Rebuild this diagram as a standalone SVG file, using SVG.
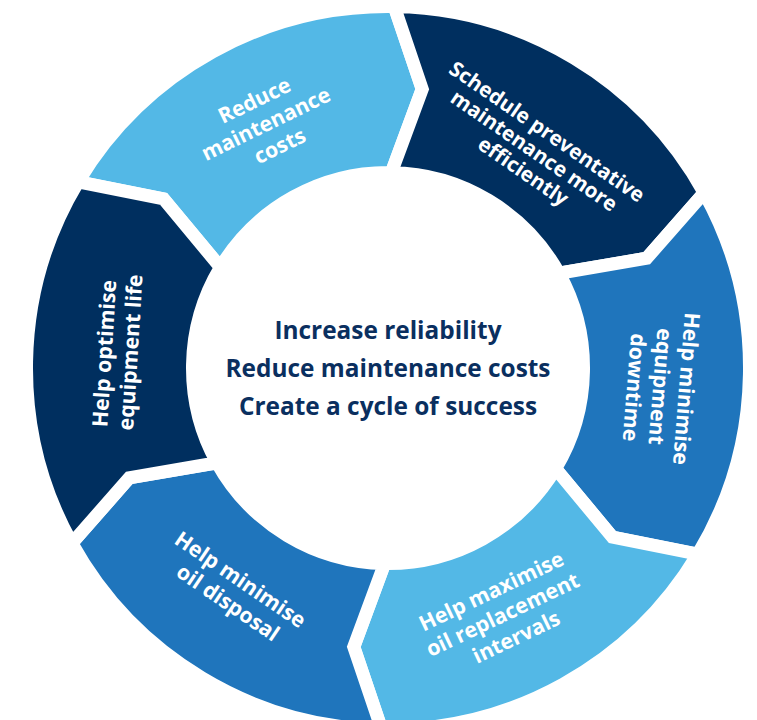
<svg xmlns="http://www.w3.org/2000/svg" width="757" height="720" viewBox="0 0 757 720">
  <style>
    .seg { stroke: #ffffff; stroke-width: 13; stroke-linejoin: miter; }
    .light { fill: #53b8e6; }
    .mid { fill: #1f75bc; }
    .navy { fill: #002f5f; }
    .lbl { font-family: "Open Sans", "Noto Sans", "Liberation Sans", sans-serif; font-weight: 700; font-size: 21.3px; fill: #ffffff; text-anchor: middle; }
    .ctr { font-family: "Open Sans", "Noto Sans", "Liberation Sans", sans-serif; font-weight: 700; font-size: 24.4px; fill: #0a2f5f; text-anchor: middle; }
  </style>
  <rect width="757" height="720" fill="#ffffff"/>

  <g id="node-reduce-costs">
    <path class="seg light" d="M 78.13,181.81 A 361.5 361.5 0 0 1 394.31,6.56 L 422.24,89.10 L 391.41,172.53 A 195.5 195.5 0 0 0 220.42,267.31 L 163.58,198.89 Z"/>
    <text class="lbl" transform="translate(268.3,122.6) rotate(-26)">
      <tspan x="0" y="-18.6">Reduce</tspan>
      <tspan x="0" y="7.4">maintenance</tspan>
      <tspan x="0" y="33.4">costs</tspan>
    </text>
  </g>

  <g id="node-schedule">
    <path class="seg navy" d="M 394.31,6.56 A 361.5 361.5 0 0 1 704.18,192.74 L 646.66,258.21 L 558.99,273.22 A 195.5 195.5 0 0 0 391.41,172.53 L 422.24,89.10 Z"/>
    <text class="lbl" style="font-size:20.7px" transform="translate(536.4,152.1) rotate(34.5)">
      <tspan x="0" y="-15.6">Schedule preventative</tspan>
      <tspan x="0" y="7.4">maintenance more</tspan>
      <tspan x="0" y="30.4">efficiently</tspan>
    </text>
  </g>

  <g id="node-downtime">
    <path class="seg mid" d="M 704.18,192.74 A 361.5 361.5 0 0 1 697.87,554.19 L 612.42,537.11 L 555.58,468.69 A 195.5 195.5 0 0 0 558.99,273.22 L 646.66,258.21 Z"/>
    <text class="lbl" transform="translate(660.2,389.4) rotate(94.5)">
      <tspan x="0" y="-18.6">Help minimise</tspan>
      <tspan x="0" y="7.4">equipment</tspan>
      <tspan x="0" y="33.4">downtime</tspan>
    </text>
  </g>

  <g id="node-intervals">
    <path class="seg light" d="M 697.87,554.19 A 361.5 361.5 0 0 1 381.69,729.45 L 353.76,646.90 L 384.59,563.47 A 195.5 195.5 0 0 0 555.58,468.69 L 612.42,537.11 Z"/>
    <text class="lbl" transform="translate(505.1,613.5) rotate(-25.5)">
      <tspan x="0" y="-18.6">Help maximise</tspan>
      <tspan x="0" y="7.4">oil replacement</tspan>
      <tspan x="0" y="33.4">intervals</tspan>
    </text>
  </g>

  <g id="node-oil-disposal">
    <path class="seg mid" d="M 381.69,729.45 A 361.5 361.5 0 0 1 71.83,543.26 L 129.34,477.80 L 217.01,462.78 A 195.5 195.5 0 0 0 384.59,563.47 L 353.76,646.90 Z"/>
    <text class="lbl" transform="translate(235.3,591.9) rotate(34.3)">
      <tspan x="0" y="-5.6">Help minimise</tspan>
      <tspan x="0" y="20.4">oil disposal</tspan>
    </text>
  </g>

  <g id="node-equipment-life">
    <path class="seg navy" d="M 71.83,543.26 A 361.5 361.5 0 0 1 78.13,181.81 L 163.58,198.89 L 220.42,267.31 A 195.5 195.5 0 0 0 217.01,462.78 L 129.34,477.80 Z"/>
    <text class="lbl" transform="translate(117.5,351.5) rotate(-86.5)">
      <tspan x="0" y="-5.6">Help optimise</tspan>
      <tspan x="0" y="20.4">equipment life</tspan>
    </text>
  </g>

  <g id="connectors"></g>

  <g id="center">
    <text class="ctr" x="388" y="339">Increase reliability</text>
    <text class="ctr" x="388" y="377">Reduce maintenance costs</text>
    <text class="ctr" x="388" y="415">Create a cycle of success</text>
  </g>
</svg>
